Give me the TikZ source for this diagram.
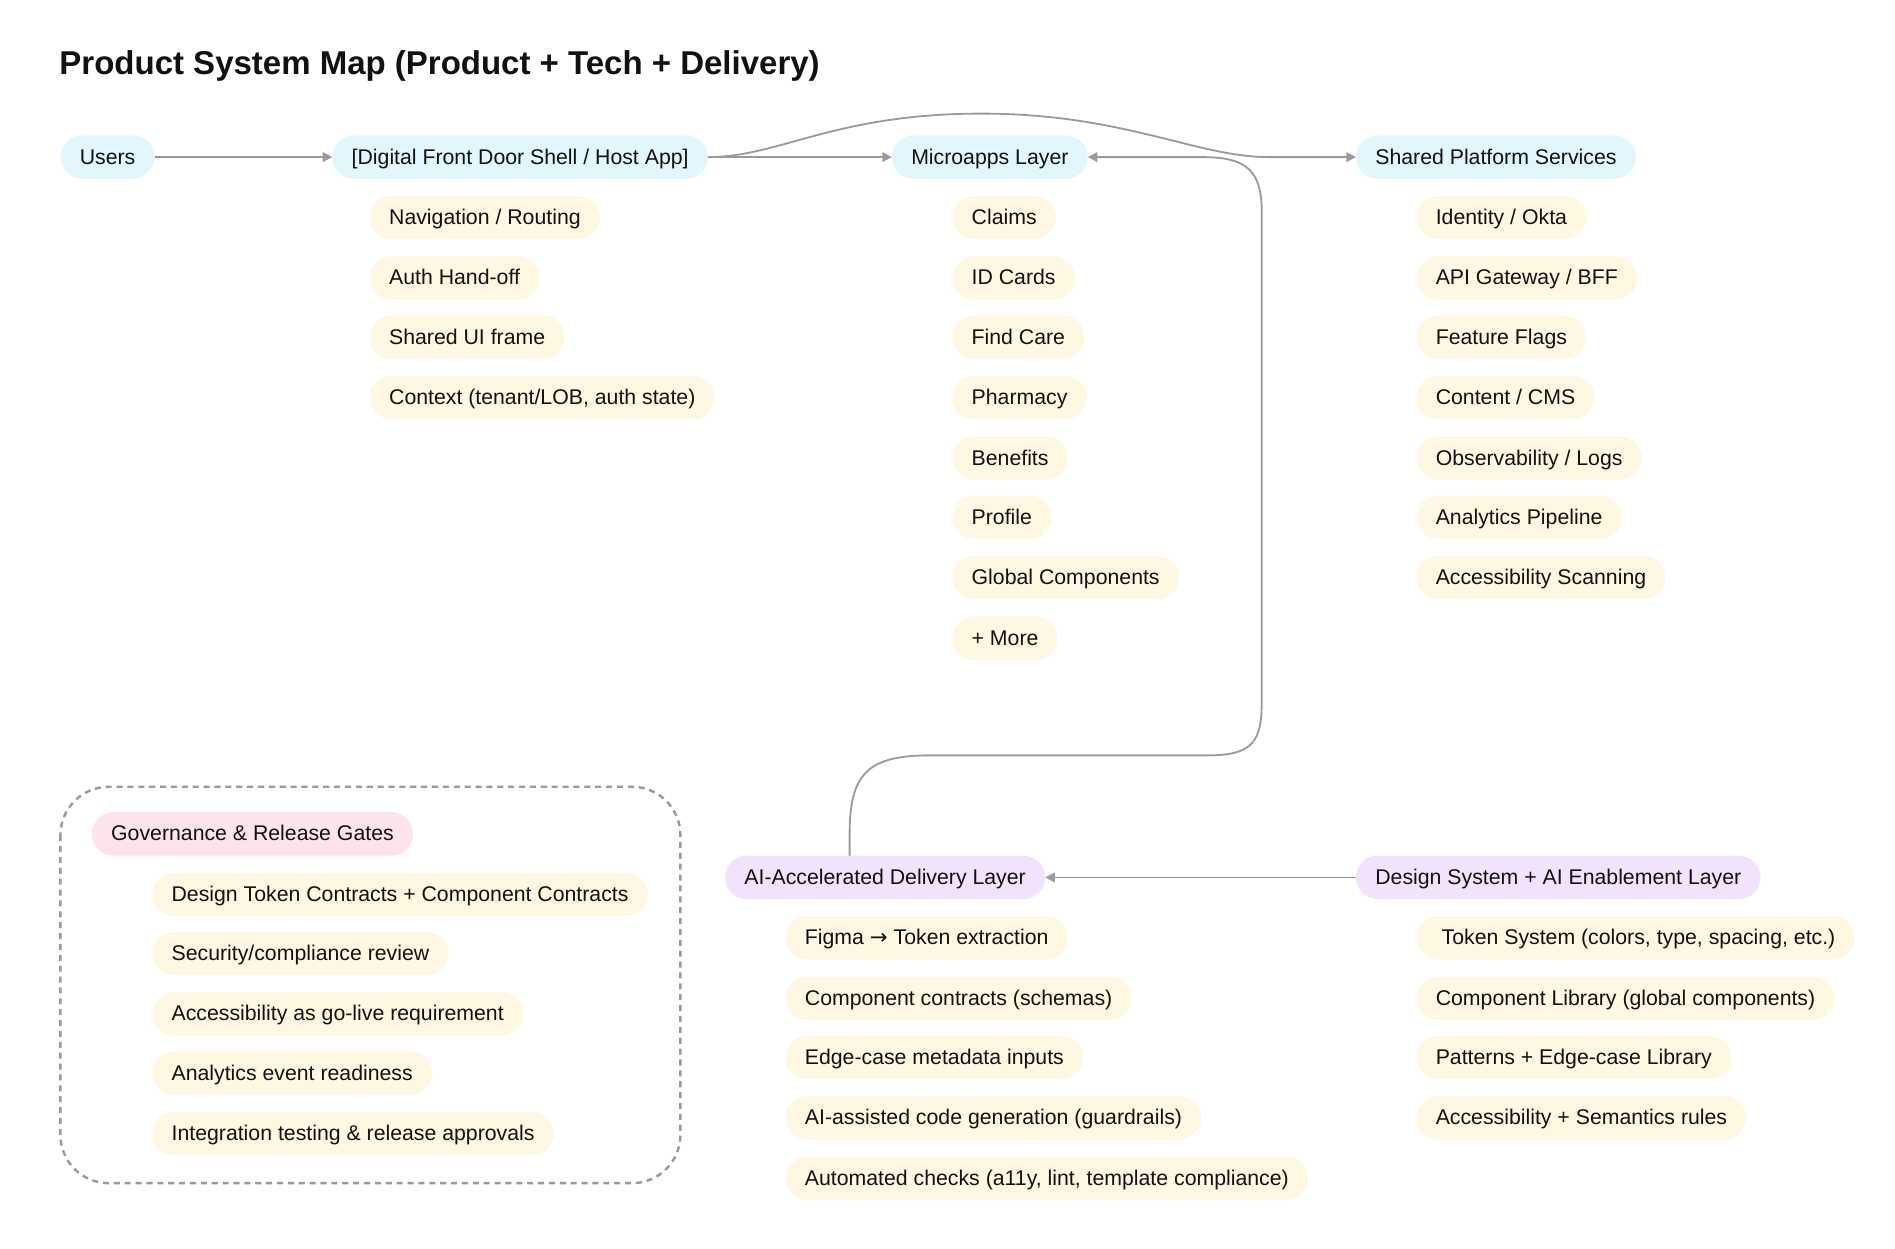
\documentclass[tikz,border=0pt]{standalone}
\usepackage{fontspec}
\setmainfont{Liberation Sans}
\newfontfamily\djv{DejaVu Sans}
\usetikzlibrary{arrows.meta}
\definecolor{cyanfill}{HTML}{E1F7FD}
\definecolor{creamfill}{HTML}{FEF8E3}
\definecolor{purplefill}{HTML}{F3E2FC}
\definecolor{pinkfill}{HTML}{FDE3EA}
\definecolor{linec}{HTML}{9A9A9A}
\definecolor{textc}{HTML}{111111}
\begin{document}
\begin{tikzpicture}[x=1pt,y=-1pt,
  pill/.style={rounded corners=18pt, minimum height=36pt, inner xsep=16pt, inner ysep=0pt,
    text height=14.6pt, text depth=3pt, anchor=west, outer sep=0pt,
    font=\fontsize{17.6}{20}\selectfont, text=textc},
  layer/.style={pill, fill=cyanfill},
  item/.style={pill, fill=creamfill},
  player/.style={pill, fill=purplefill},
  gate/.style={pill, fill=pinkfill},
  conn/.style={draw=linec, line width=1.5pt, -{Triangle[length=8pt,width=8pt]}},
  frame/.style={draw=linec, line width=2pt, dash pattern=on 5pt off 4pt, rounded corners=40pt}
]
\useasboundingbox (0,0) rectangle (1568,1033);

\node[anchor=west, inner sep=0pt, text=textc, font=\fontsize{27.3}{32}\selectfont\bfseries] (title) at (49,55) {Product System Map (Product + Tech + Delivery)};

% top row
\node[layer] (users) at (50,130) {Users};
\node[layer] (host) at (275,130) {[Digital Front Door Shell / Host App]};
\node[layer] (mic) at (738,130) {Microapps Layer};
\node[layer] (sps) at (1122,130) {Shared Platform Services};

% host items
\node[item] (h1) at (306,180) {Navigation / Routing};
\node[item] (h2) at (306,230) {Auth Hand-off};
\node[item] (h3) at (306,279) {Shared UI frame};
\node[item] (h4) at (306,329) {Context (tenant/LOB, auth state)};

% microapps items
\node[item] (m1) at (788,180) {Claims};
\node[item] (m2) at (788,230) {ID Cards};
\node[item] (m3) at (788,279) {Find Care};
\node[item] (m4) at (788,329) {Pharmacy};
\node[item] (m5) at (788,379) {Benefits};
\node[item] (m6) at (788,428) {Profile};
\node[item] (m7) at (788,478) {Global Components};
\node[item] (m8) at (788,528) {+ More};

% shared platform items
\node[item] (s1) at (1172,180) {Identity / Okta};
\node[item] (s2) at (1172,230) {API Gateway / BFF};
\node[item] (s3) at (1172,279) {Feature Flags};
\node[item] (s4) at (1172,329) {Content / CMS};
\node[item] (s5) at (1172,379) {Observability / Logs};
\node[item] (s6) at (1172,428) {Analytics Pipeline};
\node[item] (s7) at (1172,478) {Accessibility Scanning};

% governance frame
\draw[frame] (50,651) rectangle (563,979);
\node[gate] (gov) at (76,690) {Governance \& Release Gates};
\node[item] (g1) at (126,740) {Design Token Contracts + Component Contracts};
\node[item] (g2) at (126,789) {Security/compliance review};
\node[item] (g3) at (126,839) {Accessibility as go-live requirement};
\node[item] (g4) at (126,888) {Analytics event readiness};
\node[item] (g5) at (126,938) {Integration testing \& release approvals};

% AI delivery layer
\node[player] (ai) at (600,726) {AI-Accelerated Delivery Layer};
\node[item] (a1) at (650,776) {Figma {\djv →} Token extraction};
\node[item] (a2) at (650,826) {Component contracts (schemas)};
\node[item] (a3) at (650,875) {Edge-case metadata inputs};
\node[item] (a4) at (650,925) {AI-assisted code generation (guardrails)};
\node[item] (a5) at (650,975) {Automated checks (a11y, lint, template compliance)};

% design system layer
\node[player] (ds) at (1122,726) {Design System + AI Enablement Layer};
\node[item] (d1) at (1172,776) {\ Token System (colors, type, spacing, etc.)};
\node[item] (d2) at (1172,826) {Component Library (global components)};
\node[item] (d3) at (1172,875) {Patterns + Edge-case Library};
\node[item] (d4) at (1172,925) {Accessibility + Semantics rules};

% connectors
\draw[conn] (users) -- (host);
\draw[conn] (host) -- (mic);
\draw[conn] (host.east) .. controls (645,130) and (690,94) .. (812,94)
  .. controls (930,94) and (990,130) .. (1050,130) -- (sps.west);
\draw[conn] ([xshift=103pt]ai.north west) -- (703,690)
  .. controls (703,640) and (718,625) .. (770,625) -- (1000,625)
  .. controls (1038,625) and (1044,612) .. (1044,580) -- (1044,175)
  .. controls (1044,140) and (1030,130) .. (995,130) -- (mic.east);
\draw[conn] (ds.west) -- (ai.east);
\end{tikzpicture}
\end{document}
